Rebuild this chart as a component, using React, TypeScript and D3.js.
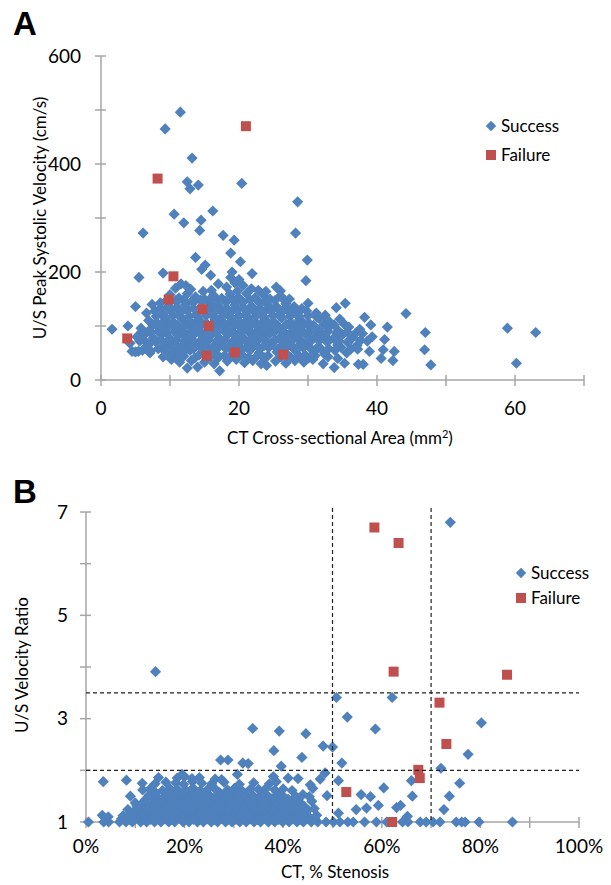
import React from "react";
import * as d3 from "d3";

// ---------- Panel A data: CT cross-sectional area (mm²) vs U/S PSV (cm/s)
const aSuccess: [number, number][] = [
  // outliers
  [11.5, 496], [9.3, 465], [13.2, 411], [12.5, 367], [14.1, 361], [12.9, 354], [20.4, 364], [28.5, 330],
  [10.6, 307], [16.2, 313], [12.0, 291], [14.5, 296], [14.3, 277], [6.1, 272], [17.7, 268], [19.3, 259],
  [28.2, 272], [13.7, 227], [18.8, 235], [20.2, 219], [29.9, 222], [15.1, 213], [14.6, 205], [15.9, 194],
  [21.9, 197], [19.0, 200], [29.7, 184], [5.5, 190], [9.0, 198], [44.2, 123], [47.0, 88], [46.9, 56],
  [47.8, 28], [58.9, 96], [63.0, 88], [60.2, 31], [41.5, 98], [41.1, 75], [40.9, 56], [42.5, 53],
  [42.3, 36], [40.6, 40], [38.2, 116], [39.1, 102], [35.4, 142], [34.1, 134], [33.8, 23], [35.3, 31],
  [37.3, 29], [38.0, 29], [1.6, 94], [3.9, 100], [5.0, 136], [4.5, 53], [5.4, 53], [7.2, 54],
  // dense cloud
  [10.2, 38], [11.4, 33], [12.5, 22], [13.1, 36], [14.0, 24], [15.0, 33], [16.4, 30], [17.2, 17],
  [18.3, 35], [19.6, 38], [20.8, 32], [22.0, 36], [23.2, 30], [24.0, 27], [25.3, 35], [26.8, 31],
  [28.1, 36], [29.4, 33], [30.7, 38], [32.2, 30], [31.0, 45],
  [9.0, 43], [10.8, 42], [12.0, 44], [13.6, 41], [15.8, 43], [17.0, 41], [18.8, 44], [21.4, 42],
  [22.6, 44], [23.7, 41], [26.1, 43], [27.5, 42], [28.8, 44], [30.1, 41], [32.9, 43], [34.3, 40],
  [5.0, 52], [6.0, 55], [7.1, 50], [8.3, 58], [9.4, 47], [10.6, 52], [11.8, 48], [12.9, 55],
  [14.2, 46], [15.5, 54], [16.7, 49], [17.9, 45], [19.1, 53], [20.4, 47], [21.6, 55], [22.9, 50],
  [24.2, 45], [25.5, 52], [26.9, 48], [28.2, 54], [29.6, 46], [30.9, 52], [32.4, 48], [33.9, 55],
  [35.6, 50], [37.2, 57], [38.9, 53],
  [8.9, 58], [10.1, 57], [11.2, 59], [12.3, 57], [13.4, 58], [14.5, 60], [15.7, 57], [16.9, 59],
  [18.1, 58], [19.3, 60], [20.5, 57], [21.8, 59], [23.0, 58], [24.3, 60], [25.6, 57], [26.8, 59],
  [28.0, 58], [29.3, 60], [30.5, 57], [31.8, 59], [33.0, 58], [34.8, 60], [36.2, 57],
  [4.2, 68], [5.6, 72], [6.8, 64], [8.0, 70], [9.1, 62], [10.3, 67], [11.5, 61], [12.7, 69],
  [13.8, 63], [15.1, 68], [16.3, 62], [17.5, 70], [18.7, 64], [19.9, 68], [21.1, 61], [22.4, 69],
  [23.6, 63], [24.8, 67], [26.1, 62], [27.4, 70], [28.7, 64], [30.1, 68], [31.5, 62], [32.8, 70],
  [34.3, 65], [35.8, 69], [37.1, 64], [38.6, 72],
  [6.2, 74], [7.4, 73], [8.6, 75], [9.7, 72], [10.9, 74], [12.1, 73], [13.2, 75], [14.4, 72],
  [15.6, 74], [16.8, 73], [18.0, 75], [19.2, 72], [20.4, 74], [21.6, 73], [22.8, 75], [24.0, 72],
  [25.2, 74], [26.5, 73], [27.8, 75], [29.0, 72], [30.3, 74], [31.6, 73], [33.0, 75], [34.5, 72],
  [36.0, 74], [37.6, 73],
  [5.2, 80], [6.4, 86], [7.6, 78], [8.8, 84], [10.0, 77], [11.2, 83], [12.4, 79], [13.6, 86],
  [14.8, 78], [16.0, 84], [17.2, 77], [18.4, 85], [19.6, 80], [20.8, 76], [22.0, 84], [23.3, 79],
  [24.5, 86], [25.8, 77], [27.0, 83], [28.3, 79], [29.6, 85], [30.9, 78], [32.3, 83], [33.7, 77],
  [35.0, 84], [36.5, 79], [37.9, 86], [39.3, 80],
  [5.9, 89], [7.1, 88], [8.3, 90], [9.5, 87], [10.7, 89], [11.9, 88], [13.1, 90], [14.3, 87],
  [15.5, 89], [16.7, 88], [17.9, 90], [19.1, 87], [20.3, 89], [21.5, 88], [22.7, 90], [23.9, 87],
  [25.1, 89], [26.4, 88], [27.7, 90], [28.9, 87], [30.2, 89], [31.5, 88], [32.9, 90], [34.2, 87],
  [35.7, 89], [37.0, 88],
  [5.8, 96], [7.0, 92], [8.2, 99], [9.4, 93], [10.6, 98], [11.8, 91], [13.0, 97], [14.2, 92],
  [15.4, 99], [16.6, 93], [17.8, 98], [19.0, 91], [20.2, 97], [21.4, 93], [22.6, 100], [23.8, 92],
  [25.0, 97], [26.3, 91], [27.6, 98], [28.9, 93], [30.2, 99], [31.6, 92], [33.0, 97], [34.4, 91],
  [35.9, 98], [37.5, 94],
  [7.5, 103], [8.7, 102], [9.9, 104], [11.1, 101], [12.3, 103], [13.5, 102], [14.7, 104], [15.9, 101],
  [17.1, 103], [18.3, 102], [19.5, 104], [20.7, 101], [21.9, 103], [23.1, 102], [24.3, 104], [25.6, 101],
  [26.9, 103], [28.2, 102], [29.5, 104], [30.8, 101], [32.3, 103], [33.8, 102],
  [6.9, 110], [8.1, 106], [9.3, 113], [10.5, 107], [11.7, 114], [12.9, 108], [14.1, 112], [15.3, 105],
  [16.5, 113], [17.7, 107], [18.9, 114], [20.1, 108], [21.3, 112], [22.5, 106], [23.7, 113], [25.0, 108],
  [26.2, 115], [27.5, 107], [28.8, 112], [30.1, 106], [31.6, 114], [33.1, 108], [34.6, 113], [35.3, 103],
  [8.0, 118], [9.2, 117], [10.4, 119], [11.6, 116], [12.8, 118], [14.0, 117], [15.2, 119], [16.4, 116],
  [17.6, 118], [18.8, 117], [20.0, 119], [21.2, 116], [22.4, 118], [23.6, 117], [24.9, 119], [26.1, 116],
  [27.4, 118], [28.7, 117], [30.0, 119], [31.3, 116],
  [6.6, 124], [7.8, 128], [9.0, 122], [10.2, 129], [11.4, 123], [12.6, 130], [13.8, 121], [15.0, 127],
  [16.2, 122], [17.4, 129], [18.6, 124], [19.8, 130], [21.0, 122], [22.2, 128], [23.4, 123], [24.6, 129],
  [25.9, 121], [27.2, 127], [28.5, 122], [29.8, 128], [31.2, 124], [32.5, 120],
  [8.6, 133], [9.8, 132], [11.0, 134], [12.2, 131], [13.4, 133], [14.6, 132], [15.8, 134], [17.0, 131],
  [18.2, 133], [19.4, 132], [20.6, 134], [21.8, 131], [23.0, 133], [24.2, 132], [25.4, 134], [26.6, 131],
  [27.9, 133], [29.1, 132],
  [7.4, 140], [8.6, 143], [9.8, 137], [11.0, 145], [12.2, 139], [13.4, 144], [14.6, 136], [15.8, 142],
  [17.0, 138], [18.2, 145], [19.4, 139], [20.6, 144], [21.8, 137], [23.0, 143], [24.2, 139], [25.5, 135],
  [26.8, 141], [28.0, 136], [30.0, 142],
  [9.6, 148], [10.8, 147], [12.0, 149], [13.2, 146], [14.4, 148], [15.6, 147], [16.8, 149], [18.0, 146],
  [19.2, 148], [20.4, 147], [21.6, 149], [22.8, 146], [24.0, 148], [25.2, 147], [26.5, 149],
  [10.0, 158], [11.3, 152], [12.5, 160], [13.7, 154], [15.0, 150], [16.3, 157], [17.5, 151], [18.7, 159],
  [19.9, 153], [21.1, 160], [22.3, 152], [23.5, 158], [24.5, 150], [26.0, 156], [27.3, 150],
  [10.8, 170], [12.3, 175], [13.0, 168], [17.0, 178], [18.2, 172], [19.4, 180], [20.6, 175], [21.8, 169],
  [22.8, 166], [25.4, 172], [26.0, 165], [18.8, 190], [20.0, 186], [11.6, 178], [14.8, 164], [16.0, 166],
  [19.8, 165], [23.9, 164],
];
const aFailure: [number, number][] = [
  [21.0, 470], [8.2, 373], [10.5, 192], [9.8, 149], [14.7, 131], [15.6, 100], [3.8, 77], [15.3, 45],
  [19.4, 51], [26.4, 47],
];
const aXTicks = [0, 10, 20, 30, 40, 50, 60, 70];
const aXLabels = [0, 20, 40, 60];
const aYTicks = [0, 100, 200, 300, 400, 500, 600];
const aYLabels = [0, 200, 400, 600];

// ---------- Panel B data: CT % stenosis vs U/S velocity ratio
const bSuccess: [number, number][] = [
  [73.9, 6.8], [14.1, 3.91], [50.8, 3.41], [62.1, 3.41], [53.0, 3.03], [58.7, 2.8], [80.2, 2.92],
  [33.8, 2.81], [39.2, 2.76], [44.6, 2.71], [38.1, 2.38], [48.1, 2.47], [50.0, 2.45], [43.8, 2.25],
  [77.5, 2.31], [51.9, 2.14], [72.0, 2.04], [39.6, 2.08], [27.3, 2.2], [28.8, 2.2], [31.8, 2.14],
  [32.9, 2.13], [30.7, 1.92], [48.5, 1.95], [51.2, 1.8], [66.0, 1.8], [75.8, 1.75], [60.4, 1.66],
  [66.2, 1.5], [73.7, 1.5], [55.8, 1.53], [57.7, 1.49], [72.6, 1.24], [54.8, 1.24], [56.9, 1.27],
  [59.3, 1.32], [63.0, 1.28], [63.8, 1.32], [65.2, 1.11], [51.2, 1.17], [48.9, 1.51], [19.5, 1.92],
  // y = 1 row
  [0.5, 1.0], [3.6, 1.0], [4.6, 1.0], [6.8, 1.0], [8.1, 1.0], [9.4, 1.0], [11.1, 1.0], [12.3, 1.0],
  [13.9, 1.0], [15.2, 1.0], [16.8, 1.0], [18.0, 1.0], [19.7, 1.0], [20.9, 1.0], [22.6, 1.0], [23.8, 1.0],
  [25.4, 1.0], [26.7, 1.0], [28.3, 1.0], [29.6, 1.0], [31.2, 1.0], [32.5, 1.0], [34.1, 1.0], [35.4, 1.0],
  [37.0, 1.0], [38.3, 1.0], [39.9, 1.0], [41.2, 1.0], [42.8, 1.0], [44.1, 1.0], [45.7, 1.0], [47.0, 1.0],
  [48.7, 1.0], [50.2, 1.0], [51.5, 1.0], [53.1, 1.0], [54.2, 1.0], [56.5, 1.0], [58.9, 1.0], [61.0, 1.0],
  [64.2, 1.0], [65.3, 1.0], [67.8, 1.0], [69.0, 1.0], [70.4, 1.0], [71.8, 1.0], [75.1, 1.0], [76.2, 1.0],
  [76.9, 1.0], [79.7, 1.0], [86.5, 1.0],
  // y ~ 1.06
  [7.2, 1.06], [8.8, 1.05], [10.2, 1.07], [11.7, 1.06], [13.1, 1.05], [14.6, 1.07], [16.0, 1.06], [17.4, 1.05],
  [18.9, 1.07], [20.3, 1.06], [21.8, 1.05], [23.2, 1.07], [24.6, 1.06], [26.1, 1.05], [27.5, 1.07], [29.0, 1.06],
  [30.4, 1.05], [31.9, 1.07], [33.3, 1.06], [34.8, 1.05], [36.2, 1.07], [37.7, 1.06], [39.1, 1.05], [40.6, 1.07],
  [42.0, 1.06], [43.5, 1.05], [44.9, 1.07], [46.4, 1.06],
  // y ~ 1.12
  [3.3, 1.13], [4.5, 1.1], [7.5, 1.12], [9.1, 1.14], [10.4, 1.1], [12.0, 1.13], [13.3, 1.11], [14.9, 1.14],
  [16.2, 1.1], [17.6, 1.13], [19.2, 1.12], [20.5, 1.15], [22.1, 1.1], [23.4, 1.13], [24.8, 1.11], [26.5, 1.14],
  [27.8, 1.1], [29.3, 1.13], [30.8, 1.12], [32.2, 1.15], [33.5, 1.1], [35.2, 1.13], [36.5, 1.11], [38.0, 1.14],
  [39.4, 1.1], [41.0, 1.13], [42.3, 1.12], [43.9, 1.15], [45.2, 1.1], [46.8, 1.13],
  // y ~ 1.19
  [9.6, 1.19], [11.2, 1.18], [12.7, 1.2], [14.1, 1.19], [15.6, 1.18], [17.0, 1.2], [18.5, 1.19], [19.9, 1.18],
  [21.4, 1.2], [22.8, 1.19], [24.3, 1.18], [25.7, 1.2], [27.2, 1.19], [28.6, 1.18], [30.1, 1.2], [31.5, 1.19],
  [33.0, 1.18], [34.4, 1.2], [35.9, 1.19], [37.3, 1.18], [38.8, 1.2], [40.2, 1.19], [41.7, 1.18], [43.1, 1.2],
  [44.6, 1.19],
  // y ~ 1.25
  [8.5, 1.24], [10.9, 1.27], [12.6, 1.23], [14.0, 1.26], [15.7, 1.25], [17.1, 1.28], [18.6, 1.24], [20.0, 1.26],
  [21.6, 1.23], [23.0, 1.27], [24.5, 1.25], [25.9, 1.24], [27.4, 1.28], [28.9, 1.23], [30.3, 1.26], [31.8, 1.25],
  [33.2, 1.27], [34.7, 1.24], [36.1, 1.26], [37.7, 1.23], [39.1, 1.28], [40.6, 1.25], [42.0, 1.24], [43.6, 1.27],
  [45.0, 1.23], [46.3, 1.26],
  // y ~ 1.31
  [10.3, 1.31], [11.9, 1.32], [13.4, 1.3], [14.8, 1.31], [16.3, 1.32], [17.7, 1.3], [19.2, 1.31], [20.6, 1.32],
  [22.1, 1.3], [23.5, 1.31], [25.0, 1.32], [26.4, 1.3], [27.9, 1.31], [29.3, 1.32], [30.8, 1.3], [32.2, 1.31],
  [33.7, 1.32], [35.1, 1.3], [36.6, 1.31], [38.0, 1.32], [39.5, 1.3], [41.0, 1.31], [42.6, 1.32], [44.3, 1.3],
  // y ~ 1.38
  [10.0, 1.37], [11.8, 1.4], [13.5, 1.36], [15.2, 1.39], [16.6, 1.38], [18.0, 1.41], [19.5, 1.37], [21.1, 1.39],
  [22.6, 1.36], [24.0, 1.4], [25.5, 1.38], [27.0, 1.37], [28.4, 1.41], [29.9, 1.36], [31.3, 1.39], [32.9, 1.38],
  [34.4, 1.4], [35.8, 1.37], [37.4, 1.39], [39.0, 1.36], [40.4, 1.4], [42.1, 1.38], [43.5, 1.37], [45.8, 1.4],
  // y ~ 1.44
  [12.1, 1.44], [13.9, 1.45], [15.6, 1.43], [17.2, 1.44], [18.8, 1.45], [20.3, 1.43], [21.9, 1.44], [23.4, 1.45],
  [25.0, 1.43], [26.6, 1.44], [28.1, 1.45], [29.7, 1.43], [31.2, 1.44], [32.7, 1.45], [34.3, 1.43], [35.9, 1.44],
  [37.6, 1.45], [39.3, 1.43], [41.0, 1.44], [43.0, 1.45],
  // y ~ 1.5
  [9.0, 1.5], [12.8, 1.52], [14.3, 1.48], [16.0, 1.51], [17.4, 1.5], [19.0, 1.53], [20.5, 1.49], [22.0, 1.51],
  [23.5, 1.48], [25.0, 1.52], [26.4, 1.5], [28.0, 1.49], [29.5, 1.53], [31.0, 1.48], [32.5, 1.51], [34.0, 1.5],
  [35.5, 1.52], [37.0, 1.49], [38.5, 1.51], [40.2, 1.48], [42.5, 1.5], [44.0, 1.53], [45.3, 1.49],
  // y ~ 1.56
  [14.2, 1.56], [16.8, 1.57], [18.3, 1.55], [19.9, 1.56], [21.4, 1.57], [22.9, 1.55], [24.5, 1.56], [27.1, 1.57],
  [30.6, 1.55], [32.1, 1.56], [35.8, 1.57], [39.2, 1.55],
  // y ~ 1.63
  [11.5, 1.62], [13.0, 1.64], [15.5, 1.61], [17.0, 1.65], [18.5, 1.63], [20.2, 1.62], [21.7, 1.66], [23.2, 1.61],
  [24.8, 1.64], [26.3, 1.63], [28.7, 1.62], [30.1, 1.65], [31.6, 1.61], [33.4, 1.64], [35.0, 1.63], [36.6, 1.66],
  [38.3, 1.62], [40.0, 1.64], [41.8, 1.61], [46.0, 1.65],
  // y ~ 1.75
  [3.5, 1.78], [11.4, 1.75], [14.0, 1.74], [16.2, 1.77], [18.2, 1.76], [19.8, 1.73], [21.6, 1.78], [23.5, 1.75],
  [25.5, 1.74], [28.0, 1.77], [31.1, 1.73], [34.0, 1.76], [37.2, 1.74], [38.6, 1.78], [45.5, 1.72],
  // y ~ 1.85
  [8.2, 1.81], [14.7, 1.86], [18.5, 1.85], [20.0, 1.88], [21.5, 1.84], [23.0, 1.86], [26.2, 1.83], [27.5, 1.82],
  [38.0, 1.88], [41.0, 1.85], [43.0, 1.84], [47.5, 1.83],
];
const bFailure: [number, number][] = [
  [58.5, 6.7], [63.4, 6.4], [62.4, 3.91], [85.4, 3.85], [71.7, 3.31], [73.1, 2.51], [67.4, 2.01],
  [67.7, 1.85], [52.8, 1.58], [62.1, 1.0],
];
const bXTicks = [0, 10, 20, 30, 40, 50, 60, 70, 80, 90, 100];
const bXLabels = [0, 20, 40, 60, 80, 100];
const bYTicks = [1, 2, 3, 4, 5, 6, 7];
const bYLabels = [1, 3, 5, 7];
const bVLines = [50, 70];
const bHLines = [2, 3.5];

const BLUE = "#4F81BD";
const RED = "#C0504D";
const AXIS = "#A6A6A6";
const FONT = "Lato, 'Open Sans', sans-serif";

const R = 5.6; // diamond half-diagonal
const S = 10; // square side

const diamond = (x: number, y: number, r = R) =>
  `M${x},${y - r}L${x + r},${y}L${x},${y + r}L${x - r},${y}Z`;

function Legend({ x, y, gap }: { x: number; y: number; gap: number }) {
  return (
    <g>
      <path d={diamond(x, y, 5.2)} fill={BLUE} />
      <text x={x + 10} y={y} dy="0.35em" fontSize={17} fontFamily={FONT} fill="#000">
        Success
      </text>
      <rect x={x - 5} y={y + gap - 5} width={10} height={10} fill={RED} />
      <text x={x + 10} y={y + gap} dy="0.35em" fontSize={17} fontFamily={FONT} fill="#000">
        Failure
      </text>
    </g>
  );
}

export default function App() {
  // Panel A scales
  const ax = d3.scaleLinear().domain([0, 70]).range([101, 584]);
  const ay = d3.scaleLinear().domain([0, 600]).range([380, 56]);
  // Panel B scales
  const bx = d3.scaleLinear().domain([0, 100]).range([86, 579]);
  const by = d3.scaleLinear().domain([1, 7]).range([822, 512]);

  return (
    <svg
      width={611}
      height={885}
      style={{ position: "absolute", left: 0, top: 0, background: "#fff" }}
    >
      <rect width={611} height={885} fill="#fff" />
      {/* ===== Panel A ===== */}
      <text x={13} y={35} fontSize={33} fontWeight="bold" fontFamily="'Liberation Sans', Arial, sans-serif">
        A
      </text>
      <line x1={ax(0)} x2={ax(70)} y1={ay(0)} y2={ay(0)} stroke={AXIS} strokeWidth={1.5} />
      <line x1={ax(0)} x2={ax(0)} y1={ay(0)} y2={ay(600)} stroke={AXIS} strokeWidth={1.5} />
      {aXTicks.map((t) => (
        <line key={"axt" + t} x1={ax(t)} x2={ax(t)} y1={ay(0) - 5} y2={ay(0) + 6} stroke={AXIS} strokeWidth={1.5} />
      ))}
      {aYTicks.map((t) => (
        <line key={"ayt" + t} x1={ax(0) - 6} x2={ax(0) + 5} y1={ay(t)} y2={ay(t)} stroke={AXIS} strokeWidth={1.5} />
      ))}
      {aXLabels.map((t) => (
        <text key={"axl" + t} x={ax(t)} y={408} dy="0.35em" textAnchor="middle" fontSize={19} fontFamily={FONT}>
          {t}
        </text>
      ))}
      {aYLabels.map((t) => (
        <text key={"ayl" + t} x={81} y={ay(t)} dy="0.35em" textAnchor="end" fontSize={19} fontFamily={FONT}>
          {t}
        </text>
      ))}
      <text x={340} y={438} dy="0.35em" textAnchor="middle" fontSize={17} fontFamily={FONT}>
        CT Cross-sectional Area (mm<tspan dy="-6" fontSize={11}>2</tspan><tspan dy="6">)</tspan>
      </text>
      <text
        transform={`translate(40,218) rotate(-90)`}
        dy="0.35em"
        textAnchor="middle"
        fontSize={17}
        fontFamily={FONT}
      >
        U/S Peak Systolic Velocity (cm/s)
      </text>
      <g>
        {aSuccess.map(([x, y], i) => (
          <path key={"as" + i} d={diamond(ax(x), ay(y))} fill={BLUE} />
        ))}
        {aFailure.map(([x, y], i) => (
          <rect key={"af" + i} x={ax(x) - S / 2} y={ay(y) - S / 2} width={S} height={S} fill={RED} />
        ))}
      </g>
      <Legend x={491} y={126} gap={29} />

      {/* ===== Panel B ===== */}
      <text x={13} y={503} fontSize={33} fontWeight="bold" fontFamily="'Liberation Sans', Arial, sans-serif">
        B
      </text>
      <line x1={bx(0)} x2={bx(100)} y1={by(1)} y2={by(1)} stroke={AXIS} strokeWidth={1.5} />
      <line x1={bx(0)} x2={bx(0)} y1={by(1)} y2={by(7)} stroke={AXIS} strokeWidth={1.5} />
      {bXTicks.map((t) => (
        <line key={"bxt" + t} x1={bx(t)} x2={bx(t)} y1={by(1) - 5} y2={by(1) + 6} stroke={AXIS} strokeWidth={1.5} />
      ))}
      {bYTicks.map((t) => (
        <line key={"byt" + t} x1={bx(0) - 6} x2={bx(0) + 5} y1={by(t)} y2={by(t)} stroke={AXIS} strokeWidth={1.5} />
      ))}
      {bXLabels.map((t) => (
        <text key={"bxl" + t} x={bx(t)} y={846} dy="0.35em" textAnchor="middle" fontSize={19} fontFamily={FONT}>
          {t}%
        </text>
      ))}
      {bYLabels.map((t) => (
        <text key={"byl" + t} x={68} y={by(t)} dy="0.35em" textAnchor="end" fontSize={19} fontFamily={FONT}>
          {t}
        </text>
      ))}
      <text x={335} y={872} dy="0.35em" textAnchor="middle" fontSize={17} fontFamily={FONT}>
        CT, % Stenosis
      </text>
      <text
        transform={`translate(22,665) rotate(-90)`}
        dy="0.35em"
        textAnchor="middle"
        fontSize={17}
        fontFamily={FONT}
      >
        U/S Velocity Ratio
      </text>
      <g>
        {bSuccess.map(([x, y], i) => (
          <path key={"bs" + i} d={diamond(bx(x), by(y))} fill={BLUE} />
        ))}
        {bFailure.map(([x, y], i) => (
          <rect key={"bf" + i} x={bx(x) - S / 2} y={by(y) - S / 2} width={S} height={S} fill={RED} />
        ))}
      </g>
      {bVLines.map((v) => (
        <line key={"bv" + v} x1={bx(v)} x2={bx(v)} y1={508} y2={by(1)} stroke="#222" strokeWidth={1.2} strokeDasharray="4,3" />
      ))}
      {bHLines.map((v) => (
        <line key={"bh" + v} x1={bx(0)} x2={bx(100)} y1={by(v)} y2={by(v)} stroke="#222" strokeWidth={1.2} strokeDasharray="4,3" />
      ))}
      <Legend x={521} y={573} gap={25} />
    </svg>
  );
}
